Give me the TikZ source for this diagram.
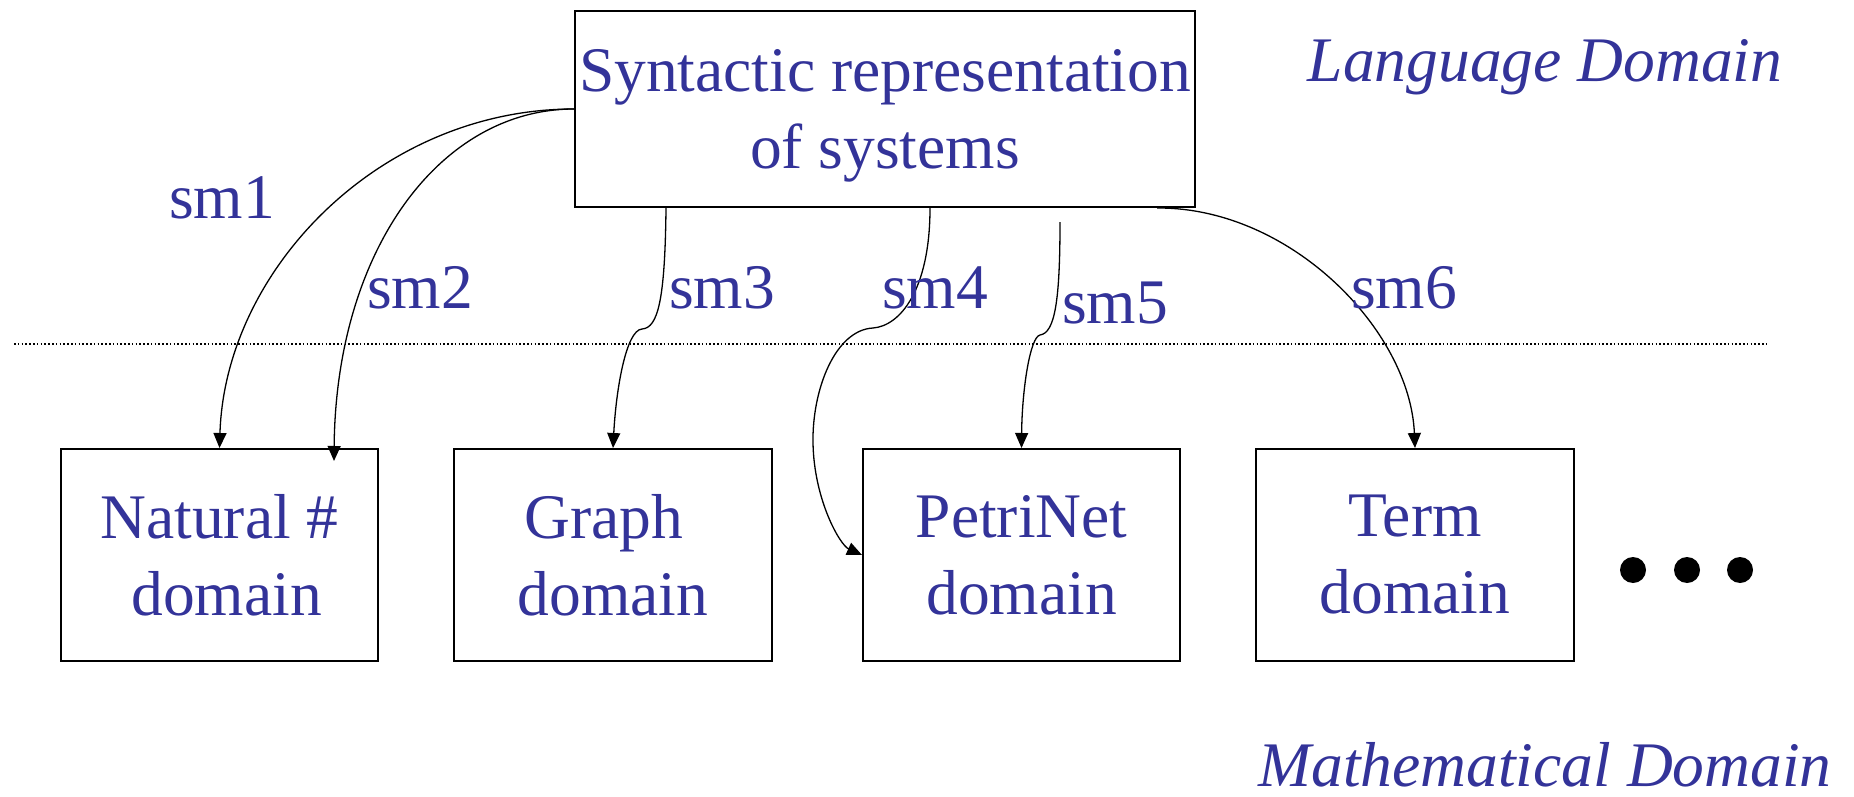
\documentclass[tikz,border=0pt]{standalone}
\usepackage{fontspec}
\setmainfont{Liberation Serif}
\usetikzlibrary{arrows.meta,calc}
\definecolor{txtblue}{RGB}{51,51,153}
\begin{document}
\begin{tikzpicture}[x=1pt,y=-1pt,
  box/.style={draw,line width=2pt,rectangle,inner sep=0pt,text=txtblue,align=center,
    font=\fontsize{63.5}{77}\selectfont},
  lab/.style={text=txtblue,anchor=base,inner sep=0pt,font=\fontsize{63.5}{77}\selectfont},
  dom/.style={text=txtblue,anchor=base,inner sep=0pt,font=\fontsize{63.5}{77}\selectfont\itshape},
  conn/.style={line width=1.3pt,-{Triangle[length=15pt,width=13pt]}},
  dotc/.style={circle,fill=black,inner sep=0pt,minimum size=26pt}]
\useasboundingbox (0,0) rectangle (1854,797);

% boxes
\node[box,minimum width=620pt,minimum height=196pt,text depth=0pt] (syn) at (885,109) {Syntactic representation\\of systems};
\node[box,minimum width=317pt,minimum height=212pt] (nat) at (219.5,555) {Natural \#\\\hspace*{14pt}domain};
\node[box,minimum width=318pt,minimum height=212pt] (gra) at (613,555) {Graph\hspace*{18pt}\\domain};
\node[box,minimum width=317pt,minimum height=212pt] (pet) at (1021.5,555) {PetriNet\\domain};
\node[box,minimum width=318pt,minimum height=212pt] (ter) at (1415,555) {Term\\domain};

% dots
\node[dotc] (d1) at (1633,570) {};
\node[dotc] (d2) at (1687,570) {};
\node[dotc] (d3) at (1740,570) {};

% domain labels
\node[dom] (lang) at (1545,82) {Language Domain};
\node[dom] (math) at (1545,786) {Mathematical Domain};

% separator
\coordinate (sepL) at (14,344);
\coordinate (sepR) at (1768,344);
\draw[line width=1.5pt,dash pattern=on 1.5pt off 2.3pt] (sepL) -- (sepR);

% connectors
\coordinate (s5) at (1060,222);
\coordinate (sm2end) at ([xshift=114.5pt,yshift=-13pt]nat.north);

\draw[conn] (syn.west) .. controls (380,109) and (225,270) .. (nat.north);
\draw[conn] (syn.west) .. controls (440,109) and (336,250) .. (sm2end);
\draw[conn] ([xshift=-219pt]syn.south) .. controls (665,300) and (658,328) .. (642,329)
   .. controls (626,330) and (616,390) .. (gra.north);
\draw[conn] ([xshift=45pt]syn.south) .. controls (930,290) and (900,326) .. (873,328)
   .. controls (835,330) and (812,390) .. (813,443)
   .. controls (814,500) and (840,545) .. (pet.west);
\draw[conn] (s5) .. controls (1060,300) and (1055,333) .. (1040,335)
   .. controls (1030,337) and (1022,390) .. (pet.north);
\draw[conn] ([xshift=272pt]syn.south) .. controls (1290,207) and (1410,330) .. (ter.north);

% connector labels
\node[lab] (l1) at (222,218) {sm1};
\node[lab] (l2) at (420,308) {sm2};
\node[lab] (l3) at (722,308) {sm3};
\node[lab] (l4) at (935,308) {sm4};
\node[lab] (l5) at (1115,323) {sm5};
\node[lab] (l6) at (1404,308) {sm6};
\end{tikzpicture}
\end{document}
